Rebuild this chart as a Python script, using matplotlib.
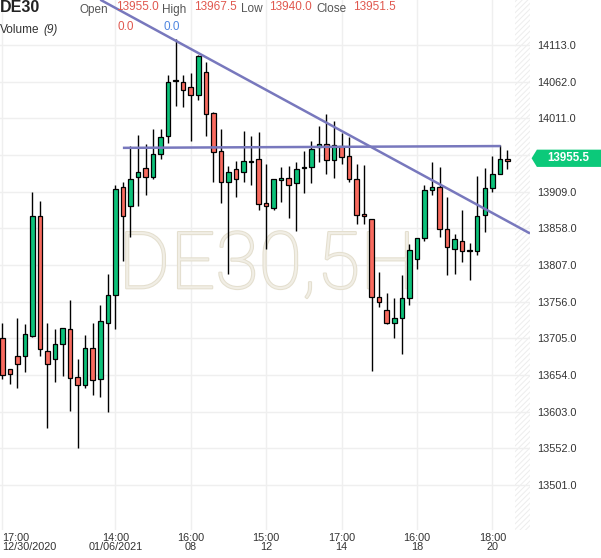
import matplotlib.pyplot as plt
import matplotlib.patheffects as pe
from matplotlib.patches import Polygon
import matplotlib.transforms as mtransforms
import numpy as np

plt.rcParams['font.family'] = ['Liberation Sans', 'DejaVu Sans']
plt.rcParams['hatch.linewidth'] = 0.7

# 5H candles, oldest first
opens = [13706, 13662, 13681, 13681, 13709, 13875, 13687, 13677, 13697, 13718,
         13652, 13640, 13691, 13648, 13727, 13766, 13915, 13889, 13929, 13942,
         13929, 13962, 13986, 14064, 14062, 14054, 14044, 14075, 14019, 13965,
         13922, 13940, 13936, 13952, 13954, 13894, 13887, 13925, 13928, 13921,
         13942, 13943, 13971, 13975, 13953, 13972, 13958, 13926, 13878, 13871,
         13763, 13744, 13726, 13733, 13761, 13815, 13844, 13911, 13916, 13857,
         13830, 13840, 13827.5, 13826, 13876, 13914, 13933, 13955.0]
highs = [13727, 13662, 13733, 13725, 13908, 13896, 13727, 13718, 13720, 13758,
         13676, 13710, 13726, 13751, 13794, 13919, 13922, 13972, 13988, 13976,
         13996, 13996, 14071, 14122, 14071, 14074, 14099, 14089, 14020, 13996,
         13945, 13952, 13993, 13986, 13992, 13948, 13927, 13944, 13945, 13950,
         13966, 13980, 14001, 14017, 14008, 13990, 13985, 13947, 13946, 13871,
         13797, 13768, 13761, 13793, 13836, 13845, 13918, 13950, 13943, 13901,
         13850, 13884, 13837, 13931, 13942, 13958, 13974, 13967.5]
lows = [13648, 13642, 13636, 13659, 13707, 13680, 13580, 13645, 13653, 13604,
        13552, 13636, 13627, 13623, 13603, 13718, 13812, 13846, 13889, 13905,
        13927, 13954, 13977, 14028, 14027, 13980, 14036, 13986, 13923, 13893,
        13794, 13901, 13923, 13919, 13883, 13830, 13883, 13895, 13873, 13855,
        13907, 13921, 13950, 13933, 13928, 13947, 13923, 13864, 13864, 13660,
        13749, 13725, 13706, 13683, 13751, 13802, 13841, 13904, 13846, 13793,
        13794, 13811, 13786, 13821, 13853, 13908, 13933, 13940.0]
closes = [13654, 13656, 13669, 13711, 13875, 13690, 13669, 13697, 13719, 13650,
          13640, 13691, 13647, 13729, 13766, 13913, 13875, 13927, 13937, 13930,
          13962, 13985, 14061, 14063, 14051, 14043, 14098, 14017, 13964, 13922,
          13937, 13926, 13952, 13950, 13892, 13889, 13926, 13928, 13919, 13940,
          13943, 13968, 13975, 13953, 13974, 13957, 13926, 13876, 13875, 13763,
          13756, 13726, 13734, 13761, 13828, 13844, 13911, 13916, 13857, 13832,
          13843, 13826, 13827, 13875, 13914, 13933, 13955, 13951.5]

tick_pos = [0, 15, 25, 35, 45, 55, 65]
tick_labels = ['17:00\n12/30/2020', '14:00\n01/06/2021', '16:00\n08', '15:00\n12',
               '17:00\n14', '16:00\n18', '18:00\n20']
price_ticks = [14113.0, 14062.0, 14011.0, 13960.0, 13909.0, 13858.0, 13807.0,
               13756.0, 13705.0, 13654.0, 13603.0, 13552.0, 13501.0]

# drawn lines (candle index, price)
trend_x = [13.0, 70.0]
trend_y = [14176, 13851]
level_x = [16.0, 66.1]
level_y = [13970, 13972.5]
last_price = 13955.5

green = '#0cc27a'
red = '#f96b5f'

fig = plt.figure(figsize=(6.01, 5.58), dpi=100)
ax = fig.add_axes([0, 28 / 558, 530 / 601, 530 / 558])

o = np.array(opens, float)
h = np.array(highs, float)
l = np.array(lows, float)
c = np.array(closes, float)
x = np.arange(len(o))
up = c >= o
bottom = np.minimum(o, c)
height = np.maximum(np.abs(c - o), 1.0)
colors = np.where(up, green, red)

ax.vlines(x, l, h, color='black', linewidth=1.0, zorder=3)
ax.bar(x, height, bottom=bottom, width=0.6, color=colors, edgecolor='black',
       linewidth=0.9, zorder=4)

ax.plot(trend_x, trend_y, color='#7878bd', linewidth=1.8, zorder=5,
        solid_capstyle='butt')
ax.plot(level_x, level_y, color='#7878bd', linewidth=1.8, zorder=5,
        solid_capstyle='butt')

ax.set_xlim(-0.3, 70)
ax.set_ylim(13438.6, 14175.6)

ax.axvspan(68.0, 70, facecolor='white', edgecolor='#ededed', hatch='//////',
           linewidth=0, zorder=0.5)

ax.set_xticks(tick_pos)
ax.set_xticklabels(tick_labels, fontsize=7.8, color='#333333', linespacing=0.95)
ax.xaxis.get_majorticklabels()[0].set_horizontalalignment('left')
ax.set_yticks(price_ticks)
# the 13960 label sits under the last-price tag
ax.set_yticklabels(['' if abs(p - last_price) < 20 else '%.1f' % p for p in price_ticks],
                   fontsize=7.8, color='#333333')
ax.yaxis.tick_right()
ax.tick_params(axis='both', length=0)
ax.tick_params(axis='y', pad=5)
ax.tick_params(axis='x', pad=2)
ax.grid(True, color='#efefef', linewidth=1.0, zorder=0)
ax.set_axisbelow(True)
for s in ax.spines.values():
    s.set_visible(False)

ax.text(0.504, 0.456, 'DE30,5H', transform=ax.transAxes, ha='center',
        va='baseline', fontsize=57, family='Roboto', fontweight='light',
        color='#f1eee5', zorder=1,
        path_effects=[pe.withStroke(linewidth=1.5, foreground='#e4dfcf')])

# price tag on the right axis
tr = mtransforms.blended_transform_factory(ax.transAxes, ax.transData)
dy = 12.0
tag = Polygon([[1.003, last_price], [1.013, last_price + dy], [1.134, last_price + dy],
               [1.134, last_price - dy], [1.013, last_price - dy]],
              closed=True, transform=tr, facecolor='#0cc97a', edgecolor='none',
              clip_on=False, zorder=6)
ax.add_patch(tag)
ax.text(1.072, last_price, '%.1f' % last_price, transform=tr, ha='center',
        va='center', fontsize=8.3, fontweight='bold', color='white', clip_on=False,
        zorder=7)

# header
def px(xp, yp):
    return xp / 601, 1 - yp / 558

fig.text(*px(0, 8), 'DE30', fontsize=11.5, fontweight='bold', color='#222222',
         va='center')
fig.text(*px(0, 30), 'Volume', fontsize=8.5, color='#333333', va='center')
fig.text(*px(43, 30), '(9)', fontsize=8.5, style='italic', color='#333333', va='center')
for xl, lab in [(79, 'Open'), (162, 'High'), (241, 'Low'), (316, 'Close')]:
    fig.text(*px(xl, 9.5), lab, fontsize=8.5, color='#555555', va='center')
for xv, val in [(116, opens[-1]), (194, highs[-1]), (269, lows[-1]), (353, closes[-1])]:
    fig.text(*px(xv, 6.5), '%.1f' % val, fontsize=8.5, color='#e0584f', va='center')
fig.text(*px(117, 27), '0.0', fontsize=8.5, color='#e0584f', va='center')
fig.text(*px(163, 27), '0.0', fontsize=8.5, color='#4f86e0', va='center')

fig.savefig('out.png', dpi=100)
